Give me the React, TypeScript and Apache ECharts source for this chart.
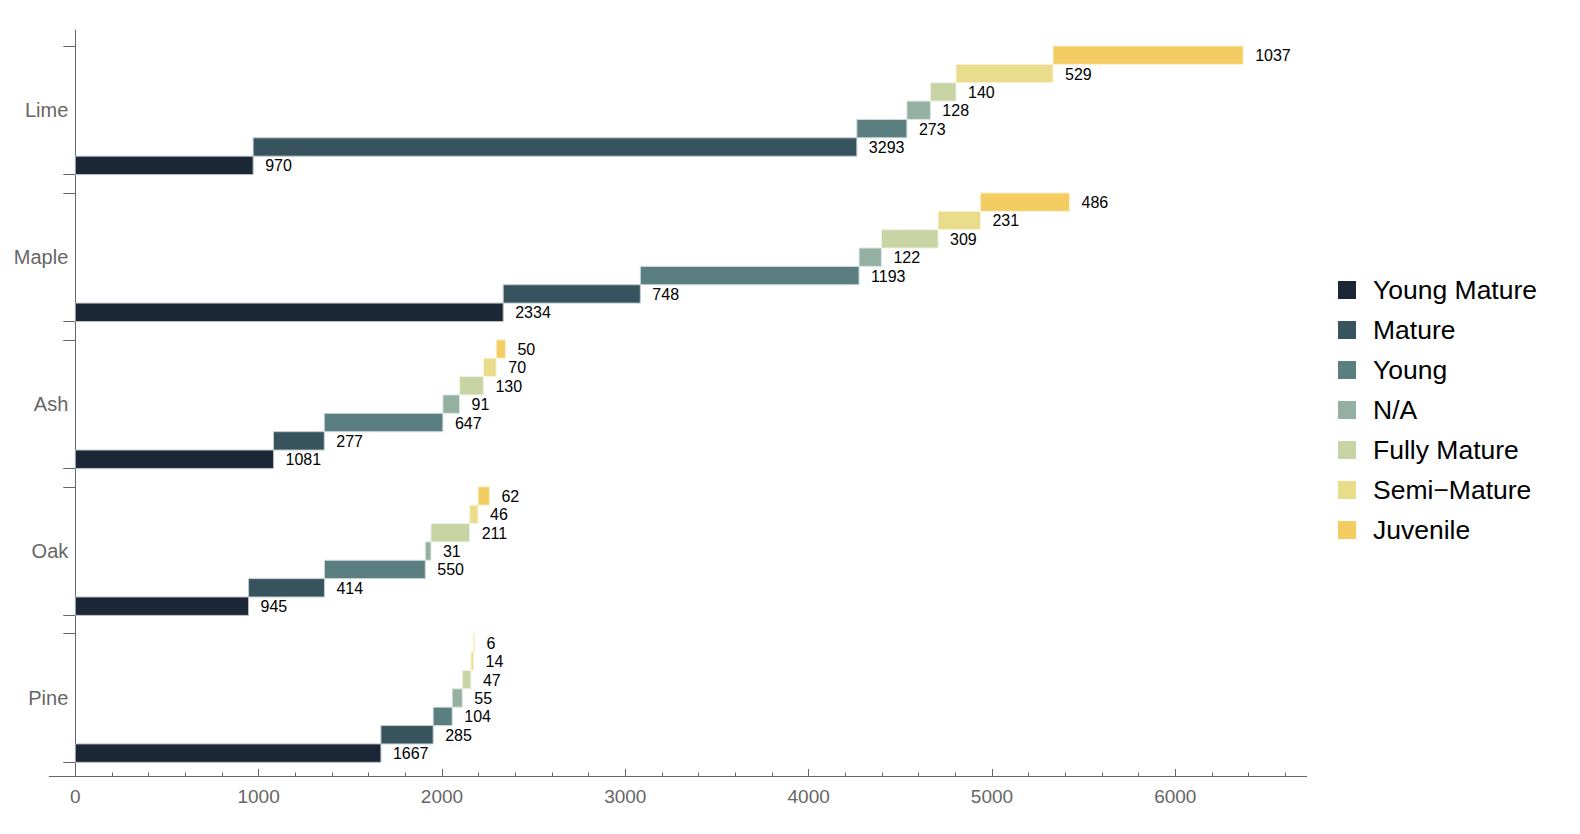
import React, { useEffect, useRef } from "react";
import * as echarts from "echarts";

const species = ["Lime", "Maple", "Ash", "Oak", "Pine"];
const stages = ["Young Mature", "Mature", "Young", "N/A", "Fully Mature", "Semi−Mature", "Juvenile"];
const colors = ["#1b2636", "#37535d", "#5b7f80", "#93b0a1", "#c9d4a5", "#e9dc8b", "#f3cd61"];

// values per species, in stage order
const limeValues = [970, 3293, 273, 128, 140, 529, 1037];
const mapleValues = [2334, 748, 1193, 122, 309, 231, 486];
const ashValues = [1081, 277, 647, 91, 130, 70, 50];
const oakValues = [945, 414, 550, 31, 211, 46, 62];
const pineValues = [1667, 285, 104, 55, 47, 14, 6];
const valuesBySpecies = [limeValues, mapleValues, ashValues, oakValues, pineValues];

const xMajorTicks = [0, 1000, 2000, 3000, 4000, 5000, 6000];
const xMinorTicks = [200, 400, 600, 800, 1200, 1400, 1600, 1800, 2200, 2400, 2600, 2800, 3200, 3400, 3600, 3800, 4200, 4400, 4600, 4800, 5200, 5400, 5600, 5800, 6200, 6400, 6600];

const FONT = '"Liberation Sans", Arial, sans-serif';

function mixWhite(hex: string, t: number) {
  const n = parseInt(hex.slice(1), 16);
  const r = (n >> 16) & 255, g = (n >> 8) & 255, b = n & 255;
  const m = (c: number) => Math.round(c + (255 - c) * t);
  return `rgb(${m(r)},${m(g)},${m(b)})`;
}

export default function App() {
  const ref = useRef<HTMLDivElement>(null);
  useEffect(() => {
    if (!ref.current) return;
    const chart = echarts.init(ref.current, null, { renderer: "svg" });
    const nSp = species.length;
    const bandStep = stages.length + 1;

    const series = stages.map((stage, s) => {
      const data = valuesBySpecies.map((vals, k) => {
        let start = 0;
        for (let i = 0; i < s; i++) start += vals[i];
        const end = start + vals[s];
        const yb = (nSp - 1 - k) * bandStep + s;
        return [start, end, yb, vals[s]];
      });
      const color = colors[s];
      const stroke = mixWhite(color, 0.7);
      return {
        type: "custom",
        name: stage,
        xAxisIndex: 0,
        yAxisIndex: 0,
        itemStyle: { color },
        encode: { x: [0, 1], y: 2 },
        data,
        renderItem: (params: any, api: any) => {
          const start = api.value(0);
          const end = api.value(1);
          const yb = api.value(2);
          const val = api.value(3);
          const p0 = api.coord([start, yb + 1]);
          const p1 = api.coord([end, yb]);
          return {
            type: "group",
            children: [
              {
                type: "rect",
                shape: { x: p0[0], y: p0[1], width: p1[0] - p0[0], height: p1[1] - p0[1] },
                style: { fill: color, stroke, lineWidth: 1 },
              },
              {
                type: "text",
                x: p1[0] + 12,
                y: (p0[1] + p1[1]) / 2 + 0.5,
                style: {
                  text: String(val),
                  fill: "#000",
                  font: `16px ${FONT}`,
                  align: "left",
                  verticalAlign: "middle",
                },
              },
            ],
          };
        },
      };
    });

    const yTicks: number[] = [];
    const yLabels: number[] = [];
    for (let k = 0; k < nSp; k++) {
      const b = k * bandStep;
      yTicks.push(b, b + stages.length);
      yLabels.push(b + stages.length / 2);
    }

    const option: any = {
      animation: false,
      grid: { left: 49.3, right: 273.3, top: 30, bottom: 58, containLabel: false, outerBoundsMode: "none" },
      legend: {
        orient: "vertical",
        left: 1338,
        top: 270,
        padding: 0,
        icon: "rect",
        itemWidth: 18,
        itemHeight: 18,
        itemGap: 0,
        data: stages,
        textStyle: {
          fontSize: 26.5,
          color: "#000",
          fontFamily: FONT,
          lineHeight: 40,
          padding: [0, 0, 0, 12],
        },
      },
      xAxis: [
        {
          type: "value",
          min: -141.8,
          max: 6716.7,
          position: "bottom",
          axisLine: { show: true, onZero: false, lineStyle: { color: "#666", width: 1 } },
          axisTick: { show: true, inside: true, length: 7, customValues: xMajorTicks, lineStyle: { color: "#666" } },
          axisLabel: {
            customValues: xMajorTicks,
            formatter: (v: number) => String(v),
            fontSize: 19,
            color: "#666",
            margin: 11,
            fontFamily: FONT,
          },
          splitLine: { show: false },
        },
        {
          type: "value",
          min: -141.8,
          max: 6716.7,
          position: "bottom",
          axisLine: { show: false, onZero: false },
          axisTick: { show: true, inside: true, length: 3.5, customValues: xMinorTicks, lineStyle: { color: "#666" } },
          axisLabel: { show: false },
          splitLine: { show: false },
        },
      ],
      yAxis: {
        type: "value",
        min: -0.746,
        max: 39.87,
        position: "left",
        offset: -26,
        axisLine: { show: true, onZero: false, lineStyle: { color: "#666", width: 1 } },
        axisTick: { show: true, inside: false, length: 12, customValues: yTicks, lineStyle: { color: "#666" } },
        axisLabel: {
          customValues: yLabels,
          formatter: (v: number) => {
            const k = Math.round((v - stages.length / 2) / bandStep);
            return species[nSp - 1 - k];
          },
          fontSize: 20,
          color: "#666",
          margin: 7,
          fontFamily: FONT,
        },
        splitLine: { show: false },
      },
      series,
    };
    chart.setOption(option);
    return () => chart.dispose();
  }, []);
  return (
    <div
      ref={ref}
      style={{ position: "absolute", left: 0, top: 0, width: 1580, height: 834, background: "#fff" }}
    />
  );
}
